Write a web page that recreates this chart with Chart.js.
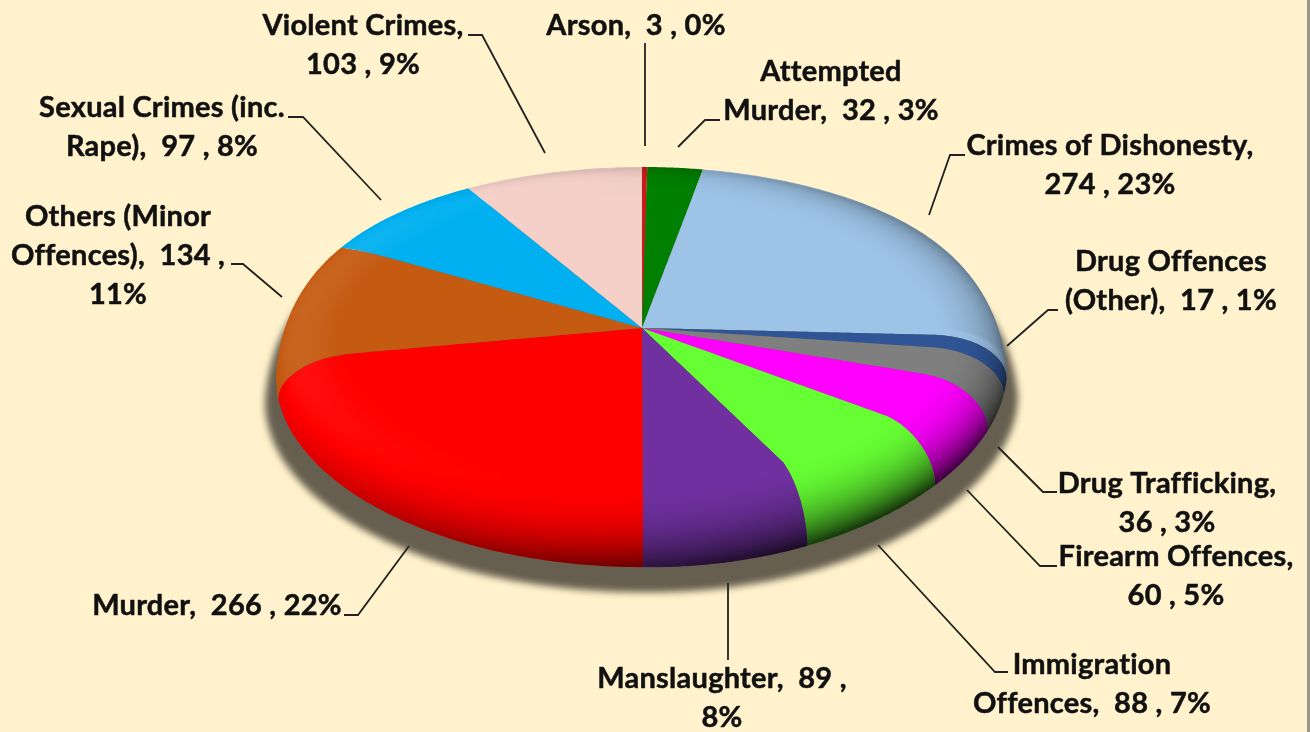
<!DOCTYPE html>
<html><head><meta charset="utf-8">
<style>html,body{margin:0;padding:0;background:#FFF2CC;overflow:hidden}canvas{display:block}</style>
<script src="https://cdn.jsdelivr.net/npm/chart.js@4"></script>
</head><body><canvas id="c" width="1310" height="732"></canvas>
<script>
const categories=["Arson","Attempted Murder","Crimes of Dishonesty","Drug Offences (Other)","Drug Trafficking","Firearm Offences","Immigration Offences","Manslaughter","Murder","Others (Minor Offences)","Sexual Crimes (inc. Rape)","Violent Crimes"];
const values=[3,32,274,17,36,60,88,89,266,134,97,103];
const percents=[0,3,23,1,3,5,7,8,22,11,8,9];
const colors=["#D01818","#008000","#9DC3E6","#2F5597","#7F7F7F","#FF00FF","#66FF33","#7030A0","#FF0000","#C55A11","#00B0F0","#F4D0C8"];

// label layout: line breaks (text that ends each line), centre x, first-line y, leader polyline
const labelBreaks=[[],["Attempted"],["Dishonesty,"],["Offences"],["Trafficking,"],["Offences,"],["Immigration"],["89 ,"],[],["(Minor","134 ,"],["(inc."],["Crimes,"]];
const labelX=[636,831,1110,1171,1167,1176,1092,722,217,118,162,363];
const labelY=[26,72,146,262,484,557,665,679,606,217,108,26];
const leaders=[
 [[645,43],[645,146]],
 [[720,120],[705,120],[678,147]],
 [[965,155],[950,155],[929,215]],
 [[1058,310],[1048,310],[1007,346]],
 [[1057,492],[1043,492],[998,447]],
 [[1057,566],[1040,566],[967,490]],
 [[1008,672],[995,672],[878,545]],
 [[728,660],[728,583]],
 [[344,615],[358,615],[409,546]],
 [[231,264],[243,264],[282,297]],
 [[288,117],[303,117],[381,200]],
 [[468,35],[482,35],[545,153]]
];

// perspective + rounded rim view of the pie
const VIEW={cx:642,cy:328,a:365,b:176,k:0.093,r0:0.80,z:37,zf:0.22,zr:0.12,pinch:0.09};
function project(nx,ny){
  const r=Math.hypot(nx,ny)||1e-9, dx=nx/r, dy=ny/r;
  const back=Math.max(0,1+Math.min(0,dy));
  const Zs=VIEW.z*(dy<0?back*back*back:(1+VIEW.zf*dy))*(1+VIEW.zr*Math.max(0,dx));
  if(r<=VIEW.r0){
    const px=r*dx,py=r*dy,w=1-VIEW.k*py;
    return [VIEW.cx+VIEW.a*px/w,VIEW.cy+VIEW.b*py/w];
  }
  const t=(Math.min(r,1)-VIEW.r0)/(1-VIEW.r0);
  const u=t*Math.PI/2;
  const rho=VIEW.r0+(1-VIEW.r0)*Math.sin(u);
  const px=rho*dx,py=rho*dy,w=1-VIEW.k*py;
  let X=VIEW.a*px/w;
  if(dy>0)X*=1-(dx>0?VIEW.pinch*dy:VIEW.pinch*0.25*dy)*Math.sin(u);
  const Y=VIEW.b*py/w+Zs*(1-Math.cos(u));
  return [VIEW.cx+X,VIEW.cy+Y];
}
function patchContext(ctx,ox,oy,R){
  const P=CanvasRenderingContext2D.prototype;
  let cur=null,start=null;
  const emit=(x,y,move)=>{const p=project((x-ox)/R,(y-oy)/R);(move?P.moveTo:P.lineTo).call(ctx,p[0],p[1]);};
  const seg=(x,y)=>{
    if(!cur){emit(x,y,true);cur=[x,y];start=[x,y];return;}
    const n=60;
    for(let i=1;i<=n;i++)emit(cur[0]+(x-cur[0])*i/n,cur[1]+(y-cur[1])*i/n,false);
    cur=[x,y];
  };
  ctx.beginPath=function(){P.beginPath.call(ctx);cur=null;start=null;};
  ctx.moveTo=function(x,y){cur=null;seg(x,y);};
  ctx.lineTo=function(x,y){seg(x,y);};
  ctx.arc=function(x,y,r,s,e){
    const n=Math.max(1,Math.ceil(Math.abs(e-s)/(Math.PI/360)));
    for(let i=0;i<=n;i++){const a=s+(e-s)*i/n;
      const px=x+r*Math.cos(a),py=y+r*Math.sin(a);
      if(i===0||!cur){ if(!cur)seg(px,py); else if(Math.hypot(px-cur[0],py-cur[1])>1e-6)seg(px,py);}
      else{emit(px,py,false);cur=[px,py];}
    }
  };
  ctx.closePath=function(){if(start)seg(start[0],start[1]);P.closePath.call(ctx);};
}
function unpatchContext(ctx){["beginPath","moveTo","lineTo","arc","closePath"].forEach(m=>delete ctx[m]);}

function rimShade(ctx,W,H){
  const off=document.createElement("canvas");off.width=W;off.height=H;
  const oc=off.getContext("2d"),img=oc.createImageData(W,H),d=img.data;
  const NT=140,NA=3600;
  for(let i=NT;i>=0;i--){
    const t=i/NT,r=VIEW.r0+(1-VIEW.r0)*t;
    for(let j=0;j<NA;j++){
      const th=j/NA*2*Math.PI,sx=Math.sin(th),sy=-Math.cos(th);
      const p=project(r*sx,r*sy),x=Math.round(p[0]),y=Math.round(p[1]);
      if(x<0||y<0||x>=W||y>=H)continue;
      const front=Math.max(0,(sy+0.25)/1.25),right=Math.max(0,sx),left=Math.max(0,-sx);
      const dark=Math.pow(t,sy<0?1.5:2.1)*(0.2+0.55*Math.pow(front,1.3)*(0.75+0.35*sx)+0.36*right-0.2*left);
      const light=Math.pow(Math.sin(Math.PI*t),2)*(0.03+0.04*left);
      const net=dark-light,o=(y*W+x)*4,c=net>0?0:255;
      d[o]=c;d[o+1]=c;d[o+2]=c;d[o+3]=Math.round(Math.min(1,Math.abs(net))*255);
    }
  }
  oc.putImageData(img,0,0);
  ctx.save();
  ctx.globalCompositeOperation="source-atop";
  ctx.filter="blur(1.2px)";
  ctx.drawImage(off,0,0);
  ctx.restore();
}
function dropShadow(ctx){
  ctx.save();
  ctx.globalCompositeOperation="destination-over";
  ctx.filter="blur(3.5px)";
  ctx.fillStyle="#665F4F";
  ctx.beginPath();
  for(let j=0;j<=360;j++){
    const th=j/180*Math.PI,p=project(Math.sin(th),-Math.cos(th));
    const x=VIEW.cx+(p[0]-VIEW.cx)*1.03,y=p[1]+25;
    j?ctx.lineTo(x,y):ctx.moveTo(x,y);
  }
  ctx.closePath();ctx.fill();
  ctx.restore();
}
function drawLabels(ctx,W,H){
  ctx.save();
  ctx.strokeStyle="#222";ctx.lineWidth=1.8;
  leaders.forEach(pts=>{ctx.beginPath();pts.forEach((p,i)=>i?ctx.lineTo(p[0],p[1]):ctx.moveTo(p[0],p[1]));ctx.stroke();});
  ctx.fillStyle="#111";ctx.strokeStyle="#111";ctx.lineWidth=0.5;ctx.lineJoin="round";
  ctx.font="700 29px Lato";ctx.letterSpacing="0.25px";ctx.textAlign="center";ctx.textBaseline="middle";
  categories.forEach((name,i)=>{
    let rest=name+",  "+values[i]+" , "+percents[i]+"%";const lines=[];
    labelBreaks[i].forEach(b=>{const k=rest.indexOf(b)+b.length;lines.push(rest.slice(0,k).trim());rest=rest.slice(k).trim();});
    lines.push(rest);
    lines.forEach((l,n)=>{const y=labelY[i]+n*38.6;ctx.fillText(l,labelX[i],y);ctx.strokeText(l,labelX[i],y);});
  });
  ctx.fillStyle="#9A9788";ctx.fillRect(W-3,0,3,H);
  ctx.restore();
}
const pie3d={id:"pie3d",
  beforeDatasetsDraw(chart){
    const el=chart.getDatasetMeta(0).data[0];
    patchContext(chart.ctx,el.x,el.y,el.outerRadius);
  },
  afterDatasetsDraw(chart){
    const ctx=chart.ctx;
    unpatchContext(ctx);
    rimShade(ctx,chart.width,chart.height);
    dropShadow(ctx);
    drawLabels(ctx,chart.width,chart.height);
  }
};
new Chart(document.getElementById("c"),{
  type:"pie",
  data:{labels:categories,datasets:[{data:values,backgroundColor:colors,borderWidth:0,clip:false}]},
  options:{responsive:false,animation:false,layout:{padding:0},
    plugins:{legend:{display:false},tooltip:{enabled:false},title:{display:false}}},
  plugins:[pie3d]
});
</script></body></html>
